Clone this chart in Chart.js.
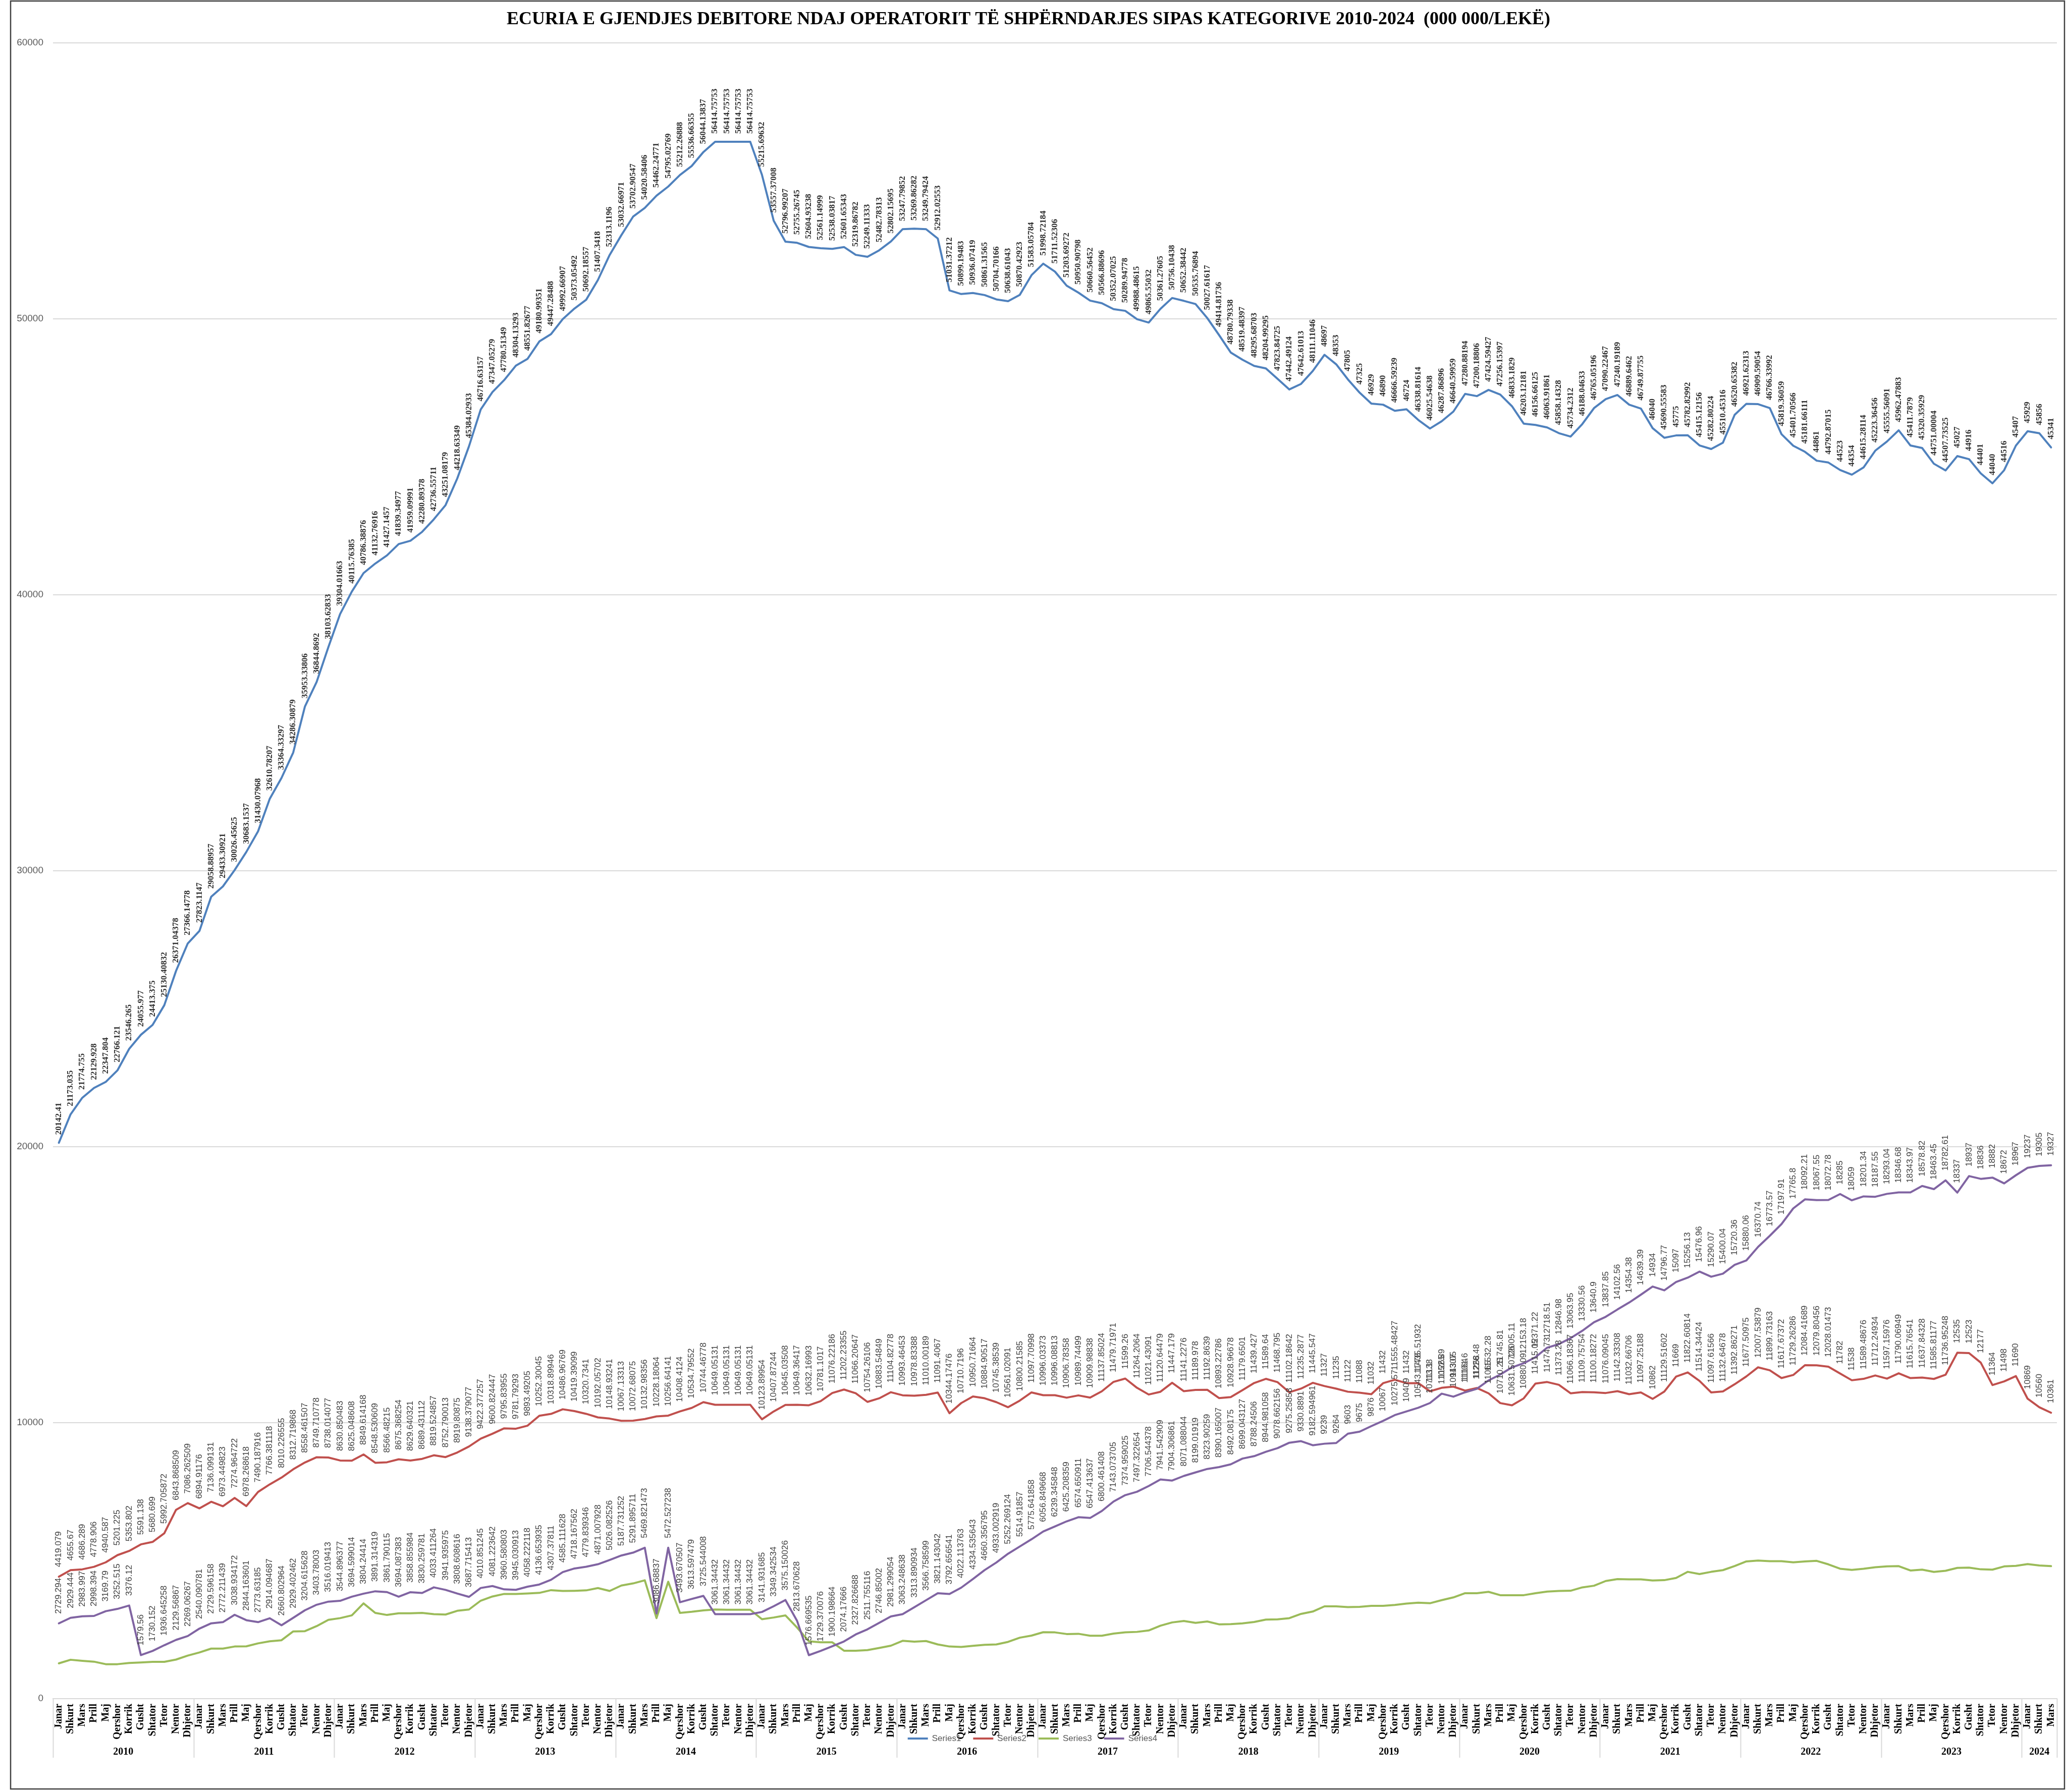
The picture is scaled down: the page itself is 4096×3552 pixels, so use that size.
<!DOCTYPE html>
<html lang="sq">
<head>
<meta charset="UTF-8">
<title>Ecuria e gjendjes debitore 2010-2024</title>
<style>
  html, body { margin: 0; padding: 0; background: #fff; }
  #wrap { width: 4096px; height: 3552px; position: relative; }
</style>
</head>
<body>
<div id="wrap"><canvas id="chart" width="4096" height="3552"></canvas></div>
<script src="https://cdn.jsdelivr.net/npm/chart.js"></script>
<script>
// categories
const months = ['Janar','Shkurt','Mars','Prill','Maj','Qershor','Korrik','Gusht','Shtator','Tetor','Nentor','Dhjetor'];
const years = [2010,2011,2012,2013,2014,2015,2016,2017,2018,2019,2020,2021,2022,2023,2024];
const monthsInLastYear = 3;

const seriesNames = ['Series1','Series2','Series3','Series4'];
const seriesColors = ['#4F81BD','#C0504D','#9BBB59','#8064A2'];

// values, Jan 2010 .. Mar 2024
const series1 = [
  20142.41, 21173.035, 21774.755, 22129.928, 22347.804, 22766.121, 23546.265, 24055.977, 24413.375, 25130.40832, 26371.04378, 27366.14778,
  27823.1147, 29058.88957, 29433.30921, 30026.45625, 30683.1537, 31430.07968, 32610.78207, 33364.33297, 34286.30879, 35953.33806, 36844.8692, 38103.62833,
  39304.01663, 40115.76385, 40786.38876, 41132.76916, 41427.1457, 41839.34977, 41959.09991, 42280.89378, 42736.55711, 43251.08179, 44218.63349, 45384.02933,
  46716.63157, 47347.05279, 47780.51349, 48304.13293, 48551.82677, 49180.99351, 49447.28488, 49992.66907, 50373.05492, 50692.18557, 51407.3418, 52313.1196,
  53032.66971, 53702.90547, 54020.58406, 54462.24771, 54795.02769, 55212.26888, 55536.66355, 56044.13837, 56414.75753, 56414.75753, 56414.75753, 56414.75753,
  55215.69632, 53557.37008, 52796.99207, 52755.26745, 52604.93238, 52561.14999, 52538.03817, 52601.65343, 52319.86782, 52249.11333, 52482.78313, 52802.15695,
  53247.79852, 53269.86282, 53249.79424, 52912.02553, 51031.37212, 50899.19483, 50936.07419, 50861.31565, 50704.70166, 50638.61043, 50870.42923, 51583.05784,
  51998.72184, 51711.52306, 51203.69272, 50950.90798, 50660.56452, 50566.88696, 50352.07025, 50289.94778, 49988.48615, 49865.55032, 50361.27605, 50756.10438,
  50652.38442, 50535.76894, 50027.61617, 49414.81736, 48780.79338, 48519.48397, 48295.68703, 48204.99295, 47823.84725, 47442.49124, 47642.61013, 48111.11046,
  48697, 48353, 47805, 47325, 46929, 46890, 46666.59239, 46724, 46338.81614, 46025.54638, 46287.86896, 46640.59959,
  47280.88194, 47200.18806, 47424.59427, 47256.15397, 46833.1829, 46203.12181, 46156.66125, 46063.91861, 45858.14328, 45734.2312, 46188.04633, 46765.05196,
  47090.22467, 47240.19189, 46889.6462, 46749.87755, 46040, 45690.55583, 45775, 45782.82992, 45415.12156, 45282.80224, 45510.45316, 46520.65382,
  46921.62313, 46909.59054, 46766.33992, 45819.36059, 45401.70566, 45181.66111, 44861, 44792.87015, 44523, 44354, 44615.28114, 45223.36456,
  45555.56091, 45962.47883, 45411.7879, 45320.35929, 44751.00004, 44507.73525, 45027, 44916, 44401, 44040, 44516, 45407,
  45929, 45856, 45341
];
const series2 = [
  4419.079, 4655.67, 4686.289, 4778.906, 4940.587, 5201.225, 5353.802, 5591.138, 5680.699, 5992.705872, 6843.868509, 7086.262509,
  6894.91176, 7136.099131, 6973.449823, 7274.964722, 6978.268618, 7490.187916, 7766.381118, 8010.226555, 8312.719868, 8558.461507, 8749.710778, 8738.014077,
  8630.850483, 8625.048608, 8849.614168, 8548.530609, 8566.48215, 8675.368254, 8629.640321, 8689.431112, 8819.524857, 8752.790013, 8919.80875, 9138.379077,
  9422.377257, 9600.824447, 9795.83955, 9781.79293, 9893.49205, 10252.30045, 10318.89946, 10486.96769, 10419.39099, 10320.7341, 10192.05702, 10148.93241,
  10067.13313, 10072.68075, 10132.98356, 10228.18064, 10256.64141, 10408.4124, 10534.79552, 10744.46778, 10649.05131, 10649.05131, 10649.05131, 10649.05131,
  10123.89954, 10407.87244, 10645.03508, 10649.36417, 10632.16993, 10781.1017, 11076.22186, 11202.23355, 11066.20647, 10754.26106, 10883.54849, 11104.82778,
  10993.46453, 10978.83388, 11010.00189, 11091.4067, 10344.17476, 10710.7196, 10950.71664, 10884.90517, 10745.38539, 10561.02091, 10800.21585, 11097.70998,
  10996.03373, 10996.08813, 10906.78358, 10989.74499, 10909.98838, 11137.85024, 11479.71971, 11599.26, 11264.2064, 11021.43091, 11120.64479, 11447.179,
  11141.2276, 11189.978, 11192.8639, 10893.22786, 10928.96678, 11179.6501, 11439.427, 11589.64, 11468.795, 11102.18642, 11235.2877, 11445.547,
  11327, 11235, 11122, 11088, 11032, 11432, 11555.48427, 11432, 11435.51932, 11138, 11265, 11307,
  11164, 11258, 11065, 10710.25, 10631.50726, 10880.09, 11415.05, 11474.73, 11373.28, 11066.18367, 11109.75754, 11100.18272,
  11076.09045, 11142.33308, 11032.66706, 11097.25188, 10862, 11129.51602, 11669, 11822.60814, 11514.34424, 11097.61566, 11132.64678, 11392.86271,
  11677.50975, 12007.53879, 11899.73163, 11617.67372, 11729.26286, 12084.41689, 12079.80456, 12028.01473, 11782, 11538, 11589.48676, 11712.24934,
  11597.15976, 11790.06949, 11615.76541, 11637.84328, 11585.81177, 11736.95248, 12535, 12523, 12177, 11364, 11498, 11690,
  10869, 10560, 10361
];
const series3 = [
  1280, 1410, 1372, 1341, 1250, 1250, 1295, 1311, 1334, 1334, 1417, 1562,
  1676, 1814, 1814, 1890, 1897, 2004, 2080, 2118, 2438, 2446, 2629, 2858,
  2918, 3018, 3452, 3109, 3033, 3094, 3094, 3109, 3063, 3048, 3185, 3231,
  3551, 3703, 3795, 3795, 3810, 3833, 3932, 3902, 3909, 3924, 4008, 3902,
  4100, 4176, 4290, 2918, 4237, 3109, 3147, 3200, 3231, 3223, 3223, 3223,
  2880, 2941, 3018, 2576, 2080, 2042, 2042, 1737, 1737, 1760, 1837, 1920,
  2096, 2065, 2088, 1966, 1890, 1875, 1913, 1951, 1966, 2057, 2210, 2286,
  2408, 2402, 2342, 2351, 2282, 2282, 2360, 2402, 2420, 2471, 2643, 2763,
  2814, 2746, 2797, 2694, 2703, 2728, 2780, 2866, 2874, 2917, 3072, 3157,
  3346, 3346, 3320, 3329, 3363, 3363, 3395, 3448, 3478, 3458, 3569, 3669,
  3821, 3821, 3871, 3750, 3750, 3750, 3821, 3881, 3901, 3911, 4032, 4093,
  4264, 4334, 4324, 4324, 4284, 4294, 4375, 4596, 4516, 4596, 4657, 4805,
  4973, 5004, 4983, 4983, 4941, 4973, 4994, 4867, 4708, 4666, 4708, 4761,
  4793, 4803, 4645, 4676, 4592, 4634, 4740, 4750, 4687, 4676, 4793, 4814,
  4877, 4825, 4803
];
const series4 = [
  2729.294, 2929.444, 2983.997, 2998.394, 3169.79, 3252.515, 3376.12, 1579.56, 1730.152, 1936.645258, 2129.56867, 2269.06267,
  2540.090781, 2729.596158, 2772.211439, 3038.934172, 2844.163601, 2773.63185, 2914.094687, 2660.802964, 2929.402462, 3204.615628, 3403.78003, 3516.019413,
  3544.896377, 3694.599014, 3804.24414, 3891.314319, 3861.790115, 3694.087383, 3858.855984, 3830.259781, 4033.411264, 3941.935975, 3808.608616, 3687.715413,
  4010.851245, 4081.223642, 3960.580803, 3945.030913, 4058.222118, 4136.653935, 4307.37811, 4585.111628, 4718.167562, 4779.839346, 4871.007928, 5026.082526,
  5187.731252, 5291.895711, 5469.821473, 3086.68837, 5472.527238, 3493.670507, 3613.597479, 3725.544008, 3061.34432, 3061.34432, 3061.34432, 3061.34432,
  3141.931685, 3349.342534, 3575.150026, 2813.670628, 1576.669535, 1729.370076, 1900.198664, 2074.17666, 2327.826688, 2511.755116, 2746.85002, 2981.299054,
  3063.248638, 3313.890934, 3566.758599, 3821.143042, 3792.656541, 4022.113763, 4334.535643, 4660.356795, 4933.002919, 5252.269124, 5514.91857, 5775.641858,
  6056.849668, 6239.345848, 6425.208359, 6574.650911, 6547.413637, 6800.461408, 7143.073705, 7374.959025, 7497.322654, 7706.544378, 7941.542909, 7904.306861,
  8071.088044, 8199.01919, 8323.90259, 8390.165007, 8492.08175, 8699.043127, 8788.24506, 8944.981058, 9078.662156, 9275.25858, 9330.8891, 9182.594961,
  9239, 9264, 9603, 9675, 9876, 10067, 10275.57, 10409, 10543.1778, 10713.1, 11052.89, 10943.05,
  11101.6, 11226.48, 11532.28, 11745.81, 12005.11, 12153.18, 12371.22, 12718.51, 12846.98, 13063.95, 13330.56, 13640.9,
  13837.85, 14102.56, 14354.38, 14639.39, 14934, 14796.77, 15097, 15256.13, 15476.96, 15290.07, 15400.04, 15720.36,
  15880.06, 16370.74, 16773.57, 17197.91, 17765.8, 18092.21, 18067.55, 18072.78, 18285, 18059, 18201.34, 18187.55,
  18293.04, 18346.68, 18343.97, 18578.82, 18463.45, 18782.61, 18337, 18937, 18836, 18882, 18672, 18967,
  19237, 19305, 19327
];
const yMax = 60000;
const yStep = 10000;

// build the category labels (month + year)
const labels = [];
const labelMonth = [];
years.forEach((y, yi) => {
  const n = yi === years.length - 1 ? monthsInLastYear : 12;
  for (let m = 0; m < n; m++) { labels.push(months[m] + ' ' + y); labelMonth.push(months[m]); }
});

const AREA = { left: 105, right: 4076, top: 85, bottom: 3367 };
const SERIF = "'Liberation Serif', 'Times New Roman', serif";
const SANS = "'Liberation Sans', Arial, sans-serif";

// which series carry value labels, and how
const labelStyle = [
  { font: 'bold 17px ' + SERIF, color: '#303030', gap: 16 },
  { font: '17px ' + SANS, color: '#404040', gap: 19 },
  null,
  { font: '17px ' + SANS, color: '#404040', gap: 19 }
];

const pointLabels = {
  id: 'pointLabels',
  afterDatasetsDraw(chart) {
    const ctx = chart.ctx;
    chart.data.datasets.forEach((ds, di) => {
      const st = labelStyle[di];
      if (!st) return;
      const meta = chart.getDatasetMeta(di);
      ctx.save();
      ctx.font = st.font;
      ctx.fillStyle = st.color;
      ctx.textAlign = 'left';
      ctx.textBaseline = 'middle';
      meta.data.forEach((pt, i) => {
        ctx.save();
        ctx.translate(pt.x, pt.y - st.gap);
        ctx.rotate(-Math.PI / 2);
        ctx.fillText(String(ds.data[i]), 0, 0);
        ctx.restore();
      });
      ctx.restore();
    });
  }
};

// year row, group separators, legend, frame
const extras = {
  id: 'extras',
  afterDraw(chart) {
    const ctx = chart.ctx;
    const xs = chart.scales.x;
    const half = (xs.getPixelForValue(1) - xs.getPixelForValue(0)) / 2;
    const axisY = chart.chartArea.bottom;
    ctx.save();
    ctx.strokeStyle = '#D9D9D9';
    ctx.lineWidth = 2;
    let idx = 0;
    const edges = [];
    years.forEach((y, yi) => {
      const n = yi === years.length - 1 ? monthsInLastYear : 12;
      const x0 = xs.getPixelForValue(idx) - half;
      const x1 = xs.getPixelForValue(idx + n - 1) + half;
      edges.push(x0);
      if (yi === years.length - 1) edges.push(x1);
      ctx.fillStyle = '#000';
      ctx.font = 'bold 20px ' + SERIF;
      ctx.textAlign = 'center';
      ctx.textBaseline = 'middle';
      ctx.fillText(String(y), (x0 + x1) / 2, 3473);
      idx += n;
    });
    edges.forEach(x => {
      ctx.beginPath();
      ctx.moveTo(Math.round(x) + 0.5, axisY);
      ctx.lineTo(Math.round(x) + 0.5, 3484);
      ctx.stroke();
    });

    // legend
    ctx.font = '17px ' + SANS;
    ctx.textBaseline = 'middle';
    ctx.textAlign = 'left';
    const itemW = chart.data.datasets.map(ds => 40 + 8 + ctx.measureText(ds.label).width);
    const gapW = 24;
    const total = itemW.reduce((a, b) => a + b, 0) + gapW * (itemW.length - 1);
    let lx = 2046 - total / 2;
    const ly = 3446;
    chart.data.datasets.forEach((ds, i) => {
      ctx.strokeStyle = ds.borderColor;
      ctx.lineWidth = 4;
      ctx.beginPath();
      ctx.moveTo(lx, ly);
      ctx.lineTo(lx + 40, ly);
      ctx.stroke();
      ctx.fillStyle = '#595959';
      ctx.fillText(ds.label, lx + 48, ly);
      lx += itemW[i] + gapW;
    });

    // outer frame
    ctx.strokeStyle = '#404040';
    ctx.lineWidth = 2.5;
    ctx.strokeRect(21, 2, 4070, 3544);
    ctx.restore();
  }
};

const whiteBg = {
  id: 'whiteBg',
  beforeDraw(chart) {
    const ctx = chart.ctx;
    ctx.save();
    ctx.fillStyle = '#fff';
    ctx.fillRect(0, 0, chart.width, chart.height);
    ctx.restore();
  }
};

const allSeries = [series1, series2, series3, series4];

new Chart(document.getElementById('chart').getContext('2d'), {
  type: 'line',
  data: {
    labels: labels,
    datasets: allSeries.map((d, i) => ({
      label: seriesNames[i],
      data: d,
      borderColor: seriesColors[i],
      backgroundColor: seriesColors[i],
      borderWidth: 4,
      pointRadius: 0,
      pointHoverRadius: 0,
      tension: 0,
      fill: false,
      borderJoinStyle: 'round',
      borderCapStyle: 'round',
      order: 3 - i
    }))
  },
  options: {
    responsive: false,
    devicePixelRatio: 1,
    animation: false,
    events: [],
    layout: { padding: { left: 0, right: 4096 - AREA.right, top: 0, bottom: 0 } },
    plugins: {
      legend: { display: false },
      tooltip: { enabled: false },
      title: {
        display: true,
        text: 'ECURIA E GJENDJES DEBITORE NDAJ OPERATORIT TË SHPËRNDARJES SIPAS KATEGORIVE 2010-2024  (000 000/LEKË)',
        color: '#000',
        font: { family: SERIF, size: 36, weight: 'bold', lineHeight: 1.2 },
        padding: { top: 17, bottom: AREA.top - 17 - 43.2 }
      }
    },
    scales: {
      x: {
        type: 'category',
        offset: true,
        grid: { display: false, drawTicks: false },
        border: { display: true, color: '#D9D9D9', width: 2 },
        ticks: {
          autoSkip: false,
          minRotation: 90,
          maxRotation: 90,
          padding: 10,
          color: '#000',
          font: { family: SERIF, size: 20, weight: 'bold' },
          callback: (v, i) => labelMonth[i]
        },
        afterFit(scale) {
          scale.height = 3552 - AREA.bottom;
          scale.paddingLeft = 0;
          scale.paddingRight = 0;
        }
      },
      y: {
        min: 0,
        max: yMax,
        grid: { color: '#D9D9D9', lineWidth: 2, drawTicks: false },
        border: { display: false },
        ticks: {
          stepSize: yStep,
          padding: 19,
          color: '#595959',
          font: { family: SANS, size: 19 },
          callback: v => String(v)
        },
        afterFit(scale) {
          scale.width = AREA.left;
          scale.paddingTop = 0;
          scale.paddingBottom = 0;
        }
      }
    }
  },
  plugins: [whiteBg, pointLabels, extras]
});
</script>
</body>
</html>
